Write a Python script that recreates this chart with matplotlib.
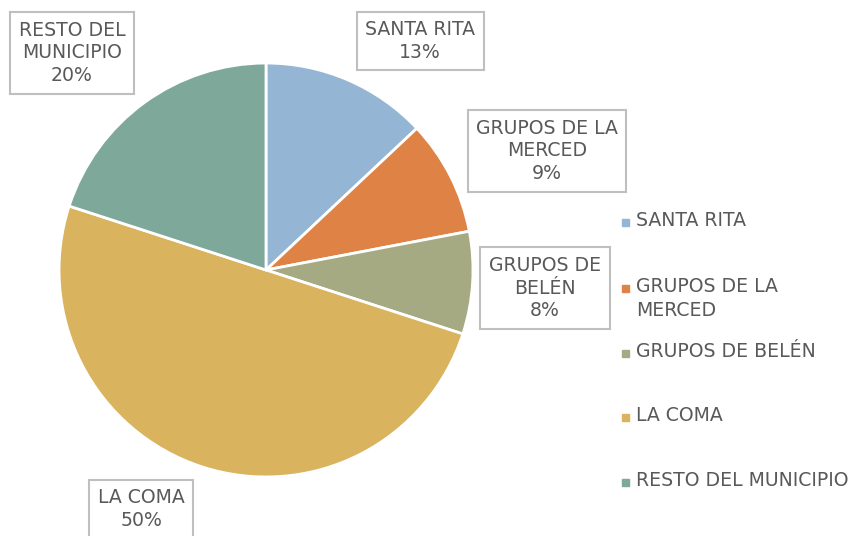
import matplotlib
matplotlib.use("Agg")
import matplotlib.pyplot as plt
from matplotlib.patches import Rectangle

categories = ["SANTA RITA", "GRUPOS DE LA MERCED", "GRUPOS DE BELÉN", "LA COMA", "RESTO DEL MUNICIPIO"]
values = [13, 9, 8, 50, 20]
label_text = ["SANTA RITA", "GRUPOS DE LA\nMERCED", "GRUPOS DE\nBELÉN", "LA COMA", "RESTO DEL\nMUNICIPIO"]
legend_text = ["SANTA RITA", "GRUPOS DE LA\nMERCED", "GRUPOS DE BELÉN", "LA COMA", "RESTO DEL MUNICIPIO"]
colors = ["#94B5D4", "#DF8245", "#A6AA82", "#D9B35E", "#7DA89A"]

TXT = "#595959"
plt.rcParams['font.family'] = ['DejaVu Sans']

W, H = 858, 536
fig = plt.figure(figsize=(W / 100, H / 100), dpi=100)
cx, cy, r = 266, 270, 208
ax = fig.add_axes([(cx - r) / W, (H - cy - r) / H, 2 * r / W, 2 * r / H])
wedges, _ = ax.pie(values, colors=colors, startangle=90, counterclock=False,
                   wedgeprops=dict(edgecolor="white", linewidth=2), radius=1)
ax.set_xlim(-1.005, 1.005)
ax.set_ylim(-1.005, 1.005)
ax.set_aspect('equal')
ax.axis('off')

FS = 13.6
# label box centers in pixels
label_pos = [(420, 41), (547, 151), (545, 288), (141, 509), (72, 53)]
for txt, v, (px, py) in zip(label_text, values, label_pos):
    fig.text(px / W, 1 - py / H, f"{txt}\n{v}%", ha="center", va="center",
             fontsize=FS, color=TXT, linespacing=1.25,
             bbox=dict(boxstyle="square,pad=0.45", fc="white", ec="#BFBFBF", lw=1.5))

# legend
leg_y = [222, 288, 353, 417, 482]
for txt, c, py in zip(legend_text, colors, leg_y):
    fig.patches.append(Rectangle((622 / W, 1 - (py + 4) / H), 7 / W, 7 / H,
                                 transform=fig.transFigure, color=c))
    fig.text(636 / W, 1 - (py - 11) / H, txt, ha="left", va="top", fontsize=FS,
             color=TXT, linespacing=1.3)

fig.savefig("out.png", dpi=100)
